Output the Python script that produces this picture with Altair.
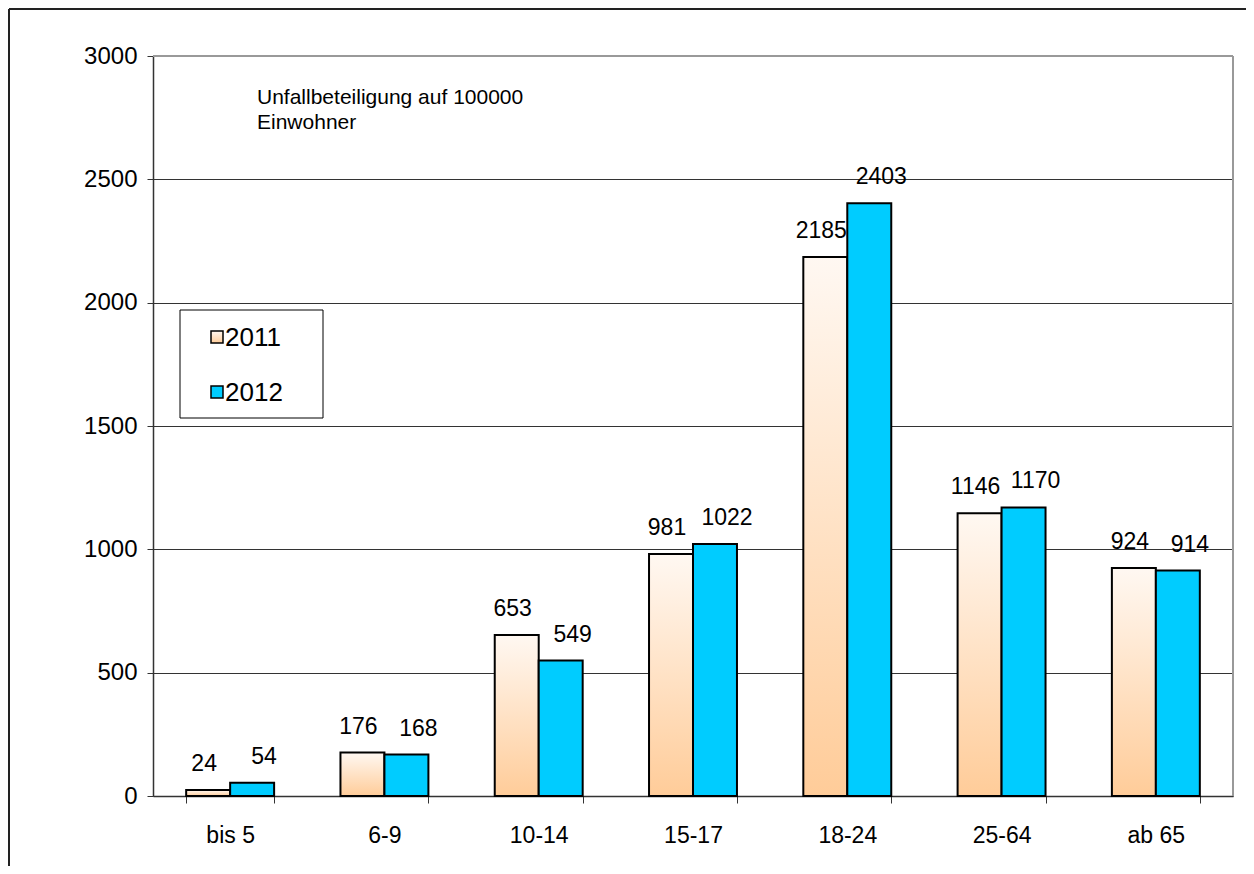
import altair as alt
import pandas as pd

categories = ["bis 5", "6-9", "10-14", "15-17", "18-24", "25-64", "ab 65"]
years = ["2011", "2012"]
values_2011 = [24, 176, 653, 981, 2185, 1146, 924]
values_2012 = [54, 168, 549, 1022, 2403, 1170, 914]
y_ticks = [0, 500, 1000, 1500, 2000, 2500, 3000]
note_lines = ["Unfallbeteiligung auf 100000", "Einwohner"]

rows = []
for c, a, b in zip(categories, values_2011, values_2012):
    rows.append({"Altersgruppe": c, "Jahr": "2011", "Wert": a})
    rows.append({"Altersgruppe": c, "Jahr": "2012", "Wert": b})
df = pd.DataFrame(rows)

FONT = "Liberation Sans"
W, H = 1080, 740

grad = alt.Gradient(
    gradient="linear",
    stops=[alt.GradientStop(color="#FFF8F2", offset=0),
           alt.GradientStop(color="#FFCC99", offset=1)],
    x1=0, x2=0, y1=0, y2=1,
)

base = alt.Chart(df).encode(
    x=alt.X("Altersgruppe:N", sort=categories, title=None,
            scale=alt.Scale(paddingInner=0.43, paddingOuter=0.215),
            axis=alt.Axis(labelAngle=0, labelFontSize=23, labelFont=FONT, labelColor="black",
                          tickBand="extent", tickSize=7, tickColor="#333", domainColor="#333",
                          domainWidth=1.5, labelPadding=21, grid=False)),
    xOffset=alt.XOffset("Jahr:N", scale=alt.Scale(domain=years)),
    y=alt.Y("Wert:Q", title=None, scale=alt.Scale(domain=[0, 3000], nice=False),
            axis=alt.Axis(values=y_ticks, format="d", labelFontSize=24, labelFont=FONT,
                          labelColor="black", tickSize=6, tickColor="#333", domainColor="#333",
                          domainWidth=1.5, labelPadding=10, grid=True, gridColor="#333",
                          gridWidth=1)),
)

b11 = base.transform_filter(alt.datum.Jahr == "2011")
b12 = base.transform_filter(alt.datum.Jahr == "2012")
bars11 = b11.mark_bar(fill=grad, stroke="black", strokeWidth=2)
bars12 = b12.mark_bar(fill="#00CCFF", stroke="black", strokeWidth=2)
labels11 = b11.mark_text(baseline="bottom", dy=-14, dx=-4, fontSize=23, font=FONT,
                         color="black").encode(text="Wert:Q")
labels12 = b12.mark_text(baseline="bottom", dy=-14, dx=12, fontSize=23, font=FONT,
                         color="black").encode(text="Wert:Q")

one = pd.DataFrame({"k": [0]})
deco = alt.Chart(one)
frame_top = deco.mark_rule(color="#999", strokeWidth=2).encode(
    x=alt.value(0), x2=alt.value(W), y=alt.value(0))
frame_right = deco.mark_rule(color="#999", strokeWidth=2).encode(
    x=alt.value(W), y=alt.value(0), y2=alt.value(H))
outer_top = deco.mark_rule(color="#222", strokeWidth=2).encode(
    x=alt.value(-144), x2=alt.value(W + 13), y=alt.value(-47))
outer_left = deco.mark_rule(color="#222", strokeWidth=2).encode(
    x=alt.value(-144), y=alt.value(-47), y2=alt.value(H + 70))

note = deco.mark_text(align="left", baseline="alphabetic", fontSize=21, font=FONT,
                      lineHeight=25, color="black").encode(
    x=alt.value(104), y=alt.value(48), text=alt.value(note_lines))

leg_box = deco.mark_rect(fill="white", stroke="black", strokeWidth=1).encode(
    x=alt.value(27), x2=alt.value(170), y=alt.value(254), y2=alt.value(362))
leg_sq1 = deco.mark_rect(fill=grad, stroke="black", strokeWidth=1.5).encode(
    x=alt.value(58), x2=alt.value(70), y=alt.value(275), y2=alt.value(287))
leg_sq2 = deco.mark_rect(fill="#00CCFF", stroke="black", strokeWidth=1.5).encode(
    x=alt.value(58), x2=alt.value(70), y=alt.value(330), y2=alt.value(342))
leg_t1 = deco.mark_text(align="left", baseline="middle", fontSize=26, font=FONT, color="black").encode(
    x=alt.value(72), y=alt.value(282), text=alt.value(years[0]))
leg_t2 = deco.mark_text(align="left", baseline="middle", fontSize=26, font=FONT, color="black").encode(
    x=alt.value(72), y=alt.value(337), text=alt.value(years[1]))

chart = alt.layer(
    bars11, bars12, labels11, labels12, frame_top, frame_right, outer_top, outer_left, note,
    leg_box, leg_sq1, leg_sq2, leg_t1, leg_t2
).properties(
    width=W, height=H, autosize="none",
    padding={"left": 145, "top": 48, "right": 13, "bottom": 70},
    background="white",
).configure_view(stroke=None)

chart.save("out.html", embed_options={"renderer": "svg", "actions": False})
